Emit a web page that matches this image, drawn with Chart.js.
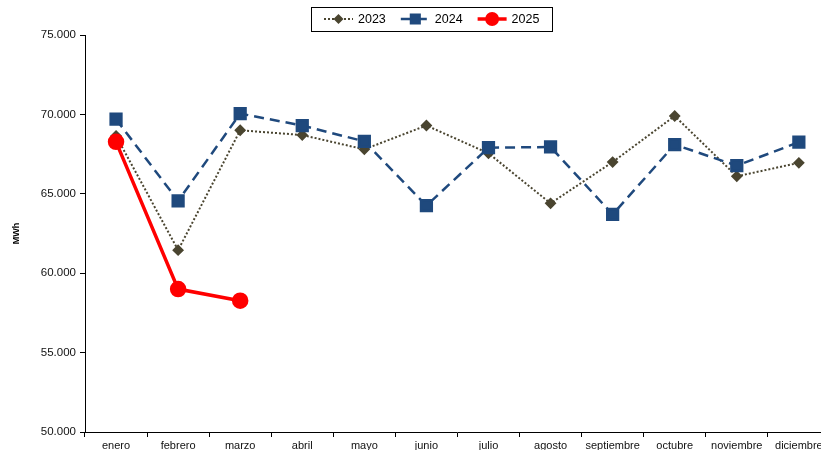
<!DOCTYPE html>
<html lang="es">
<head>
<meta charset="utf-8">
<title>MWh por mes</title>
<script src="https://cdn.jsdelivr.net/npm/chart.js@4/dist/chart.umd.min.js"></script>
<style>
  html, body { margin: 0; padding: 0; background: #fff; overflow: hidden; }
  #wrap { width: 840px; height: 450px; }
</style>
</head>
<body>
<div id="wrap"><canvas id="chart" width="840" height="450"></canvas></div>
<script>
// Data
const months = ['enero', 'febrero', 'marzo', 'abril', 'mayo', 'junio',
  'julio', 'agosto', 'septiembre', 'octubre', 'noviembre', 'diciembre'];
const yTicks = [50000, 55000, 60000, 65000, 70000, 75000];
const values2023 = [68650, 61450, 69000, 68700, 67800, 69300, 67550, 64400, 67000, 69900, 66100, 66950];
const values2024 = [69700, 64550, 70050, 69300, 68300, 64250, 67900, 67950, 63700, 68100, 66770, 68250];
const values2025 = [68270, 59000, 58270];

const FONT = '"Liberation Sans", Arial, sans-serif';

// 75000 -> "75.000"
function formatThousands(v) {
  return String(Math.round(v)).replace(/\B(?=(\d{3})+(?!\d))/g, '.');
}

// Excel-like legend: boxed, line sample with marker in the middle
const boxLegend = {
  id: 'boxLegend',
  afterDraw(chart) {
    const ctx = chart.ctx;
    const sets = chart.data.datasets;
    const sample = 29, gap = 5, space = 15, padX = 13;
    ctx.save();
    ctx.font = '12.5px ' + FONT;
    let total = padX * 2 + space * (sets.length - 1);
    sets.forEach(ds => { total += sample + gap + ctx.measureText(ds.label).width; });
    const left = Math.round(432 - total / 2);
    const top = 7, h = 24, cy = top + h / 2;

    ctx.strokeStyle = '#000';
    ctx.lineWidth = 1;
    ctx.setLineDash([]);
    ctx.strokeRect(left + 0.5, top + 0.5, Math.round(total), h);

    let x = left + padX;
    sets.forEach(ds => {
      ctx.save();
      ctx.strokeStyle = ds.borderColor;
      ctx.lineWidth = ds.borderWidth;
      ctx.setLineDash(ds.borderDash || []);
      ctx.beginPath();
      ctx.moveTo(x, cy);
      ctx.lineTo(x + sample, cy);
      ctx.stroke();
      ctx.setLineDash([]);
      ctx.fillStyle = ds.pointBackgroundColor;
      ctx.strokeStyle = ds.pointBorderColor;
      Chart.helpers.drawPoint(ctx, {
        pointStyle: ds.pointStyle, radius: ds.pointRadius * 0.8, rotation: 0, borderWidth: 1
      }, x + sample / 2, cy);
      ctx.restore();
      x += sample + gap;
      ctx.fillStyle = '#000';
      ctx.textBaseline = 'middle';
      ctx.textAlign = 'left';
      ctx.fillText(ds.label, x, cy + 1);
      x += ctx.measureText(ds.label).width + space;
    });
    ctx.restore();
  }
};

const ctx = document.getElementById('chart').getContext('2d');
new Chart(ctx, {
  type: 'line',
  data: {
    labels: months,
    datasets: [
      {
        label: '2023',
        data: values2023,
        borderColor: '#4a4530',
        borderWidth: 2,
        borderDash: [2, 2],
        pointStyle: 'rectRot',
        pointRadius: 4.5,
        pointBackgroundColor: '#4a4530',
        pointBorderColor: '#4a4530',
        tension: 0,
        order: 3
      },
      {
        label: '2024',
        data: values2024,
        borderColor: '#1f497d',
        borderWidth: 2.5,
        borderDash: [10, 6],
        pointStyle: 'rect',
        pointRadius: 7.6,
        pointBackgroundColor: '#1f497d',
        pointBorderColor: '#1f497d',
        tension: 0,
        order: 2
      },
      {
        label: '2025',
        data: values2025,
        borderColor: '#ff0000',
        borderWidth: 3.5,
        pointStyle: 'circle',
        pointRadius: 6.5,
        pointBackgroundColor: '#ff0000',
        pointBorderColor: '#ff0000',
        tension: 0,
        order: 1
      }
    ]
  },
  options: {
    responsive: false,
    animation: false,
    layout: { padding: { top: 35, right: 3, left: 0, bottom: 0 } },
    plugins: {
      legend: { display: false },
      tooltip: { enabled: false }
    },
    scales: {
      x: {
        offset: true,
        grid: {
          offset: true,
          drawOnChartArea: false,
          color: '#000',
          tickLength: 5
        },
        border: { color: '#000', width: 1 },
        ticks: {
          color: '#111',
          font: { family: FONT, size: 11 },
          padding: 2,
          maxRotation: 0,
          autoSkip: false
        },
        afterFit(scale) { scale.height = 18; }
      },
      y: {
        min: yTicks[0],
        max: yTicks[yTicks.length - 1],
        afterBuildTicks(scale) {
          scale.ticks = yTicks.map(v => ({ value: v }));
        },
        grid: {
          drawOnChartArea: false,
          color: '#000',
          tickLength: 5
        },
        border: { color: '#000', width: 1 },
        ticks: {
          color: '#111',
          font: { family: FONT, size: 11.5 },
          padding: 4,
          callback: v => formatThousands(v)
        },
        title: {
          display: true,
          text: 'MWh',
          color: '#000',
          font: { family: FONT, size: 9, weight: 'bold' },
          padding: { top: 11, bottom: 0 }
        },
        afterFit(scale) { scale.width = 85; }
      }
    }
  },
  plugins: [boxLegend]
});
</script>
</body>
</html>
